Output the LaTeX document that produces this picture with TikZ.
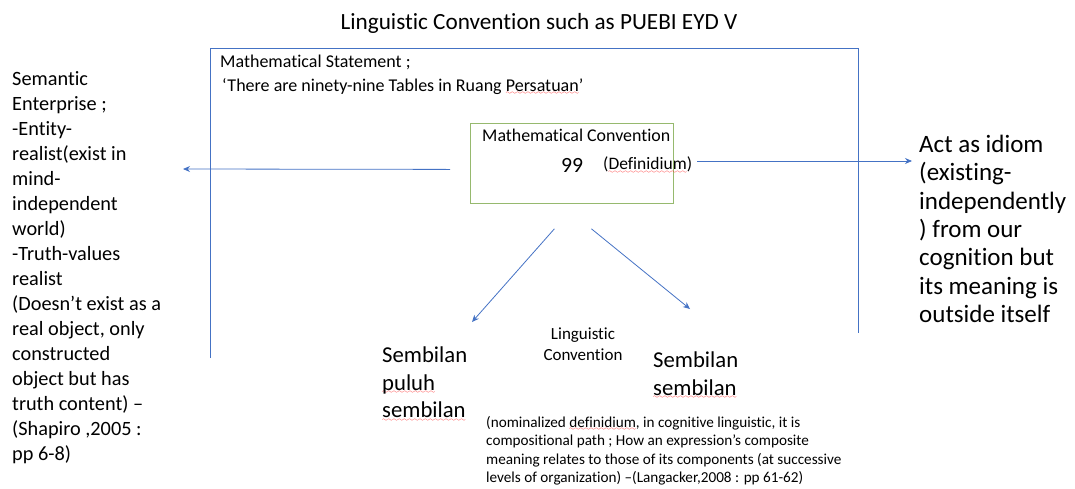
\documentclass[tikz,border=0pt]{standalone}
\usepackage{fontspec}
\setmainfont{Carlito}[Ligatures=CommonOff]
\usetikzlibrary{arrows.meta,calc}
\definecolor{lineblue}{RGB}{68,114,196}
\definecolor{boxgreen}{RGB}{150,185,110}
\font\wavefont=lasy6
\newcommand\spell[1]{\setbox0\hbox{#1}\leavevmode\rlap{\raisebox{-3.5pt}{\hbox to\wd0{\color{red}\xleaders\hbox{\wavefont\char58}\hfill}}}\box0}
\tikzset{x=1pt, y=-1pt,
  txt/.style={inner sep=0pt, align=left, anchor=north west},
  arr/.style={draw=lineblue, line width=0.8pt, -{Stealth[length=7pt,width=6pt]}},
  frame/.style={draw=lineblue, line width=0.8pt},
  mathbox/.style={draw=boxgreen, line width=0.8pt, minimum width=203pt, minimum height=80pt, inner sep=0pt, anchor=north west}}

\begin{document}
\begin{tikzpicture}
  \useasboundingbox (0,0) rectangle (1075,488);
  \node[font=\fontsize{23.2}{27}\selectfont] (title) at (539,23) {Linguistic Convention such as PUEBI EYD V};
  \draw[frame] (210,358) -- (210,48) -- (858,48) -- (858,333);
  \node[txt, font=\fontsize{18}{23.5}\selectfont] (stmt) at (220,55) {Mathematical Statement ;\\\hspace{2pt}‘There are ninety-nine Tables in Ruang \spell{Persatuan}’};
  \node[mathbox] (mbox) at (470,123) {};
  \node[txt, anchor=west, font=\fontsize{17.9}{21}\selectfont] (mconv) at (482,135) {Mathematical Convention};
  \node[txt, anchor=west, font=\fontsize{21.7}{26}\selectfont] (nn) at (561,165) {99};
  \node[txt, anchor=west, font=\fontsize{17.5}{21}\selectfont] (def) at (603,165) {(\spell{Definidium})};
  \node[txt, font=\fontsize{20.3}{25}\selectfont] (sem) at (12,71) {Semantic\\Enterprise ;\\-Entity-\\realist(exist in\\mind-\\independent\\world)\\-Truth-values\\realist\\(Doesn’t exist as a\\real object, only\\constructed\\object but has\\truth content) –\\(Shapiro ,2005 :\\pp 6-8)};
  \node[txt, font=\fontsize{25}{28.3}\selectfont] (idiom) at (919,135) {Act as idiom\\(existing-\\independently\\) from our\\cognition but\\its meaning is\\outside itself};
  \node[txt, font=\fontsize{22.7}{27.5}\selectfont] (spl) at (382,347) {Sembilan\\\spell{puluh}\\\spell{sembilan}};
  \node[txt, anchor=north, align=center, font=\fontsize{17}{21}\selectfont] (lc) at (583,328) {Linguistic\\Convention};
  \node[txt, font=\fontsize{22.7}{27.5}\selectfont] (ss) at (653,352) {Sembilan\\\spell{sembilan}};
  \node[txt, font=\fontsize{15.2}{18.5}\selectfont] (note) at (486,416) {(nominalized \spell{definidium} , in cognitive linguistic, it is\\compositional path ; How an expression’s composite\\meaning relates to those of its components (at successive\\levels of organization) –(Langacker,2008 : pp 61-62)};
  \coordinate (lend) at (183,169);
  \coordinate (plend) at (472,322);
  \coordinate (ssend) at (690,309);
  \draw[arr] ($(mbox.west)+(-20,6)$) -- (lend);
  \draw[arr] ($(def.east)+(5,-4)$) -- ($(def.east -| idiom.west)+(-7,-4)$);
  \draw[arr] ($(mbox.south)+(-17.5,25)$) -- (plend);
  \draw[arr] ($(mbox.south)+(19.5,25)$) -- (ssend);
\end{tikzpicture}
\end{document}
